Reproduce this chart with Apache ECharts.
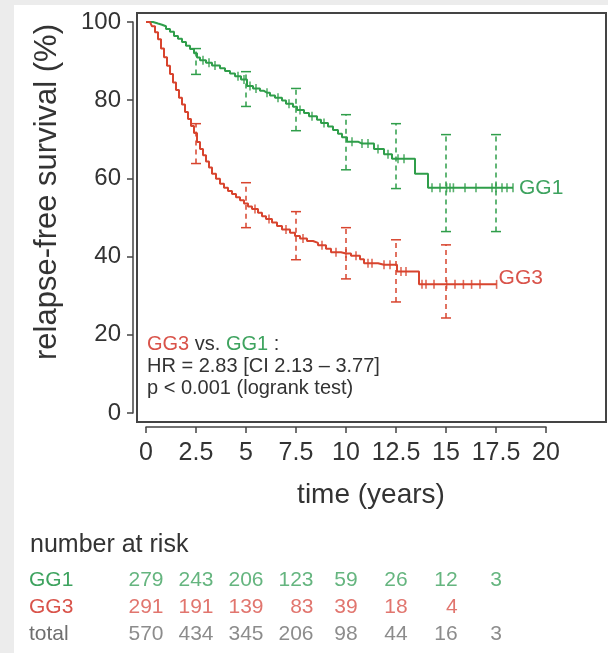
<!DOCTYPE html>
<html>
<head>
<meta charset="utf-8">
<script src="https://cdn.jsdelivr.net/npm/echarts@6/dist/echarts.min.js"></script>
<style>
  html, body { margin: 0; padding: 0; background: #ececec; }
  #sheet { position: absolute; left: 14px; top: 5px; right: 0; bottom: 0; background: #fff; }
  #km { position: absolute; left: 0; top: 0; width: 608px; height: 653px; }
</style>
</head>
<body>
<div id="sheet"></div>
<div id="km"></div>
<script>
var GREEN = "#2f9e4a";
var RED = "#d8442e";
var GREEN_TXT = "#3ea35f";
var RED_TXT = "#d9534a";

// [time, survival %, censored flag]
var gg1Curve = [
  [0, 100, 0], [0.35, 99.6, 0], [0.6, 99.3, 0], [0.8, 98.9, 0], [1.0, 98.2, 0],
  [1.2, 97.5, 0], [1.4, 96.4, 0], [1.6, 95.7, 0], [1.8, 94.9, 0], [2.0, 93.9, 0],
  [2.2, 93.1, 0], [2.4, 92.0, 0], [2.55, 90.9, 0], [2.7, 90.2, 0], [2.85, 90.2, 1],
  [3.0, 89.6, 0], [3.15, 89.6, 1], [3.3, 88.9, 0], [3.45, 88.9, 1], [3.7, 88.2, 0],
  [3.95, 87.5, 0], [4.2, 86.8, 0], [4.45, 86.1, 0], [4.6, 86.1, 1], [4.75, 85.3, 0],
  [4.9, 85.3, 1], [5.05, 83.6, 0], [5.2, 83.6, 1], [5.35, 83.0, 0], [5.5, 83.0, 1],
  [5.7, 82.4, 0], [5.9, 81.9, 0], [6.05, 81.9, 1], [6.2, 81.2, 0], [6.45, 80.6, 0],
  [6.6, 80.6, 1], [6.8, 79.9, 0], [7.0, 79.1, 0], [7.15, 79.1, 1], [7.35, 78.3, 0],
  [7.55, 77.5, 0], [7.7, 77.5, 1], [7.9, 76.7, 0], [8.15, 75.9, 0], [8.3, 75.9, 1],
  [8.55, 75.0, 0], [8.75, 74.2, 0], [8.9, 74.2, 1], [9.1, 73.3, 0], [9.35, 72.4, 0],
  [9.6, 71.4, 0], [9.8, 70.5, 0], [10.05, 69.4, 0], [10.3, 69.4, 1], [10.6, 68.9, 0],
  [10.8, 68.9, 1], [11.1, 68.9, 1], [11.4, 67.5, 0], [11.6, 67.5, 1], [11.9, 66.2, 0],
  [12.1, 66.2, 1], [12.3, 65.0, 0], [12.6, 65.0, 1], [12.9, 65.0, 1], [13.45, 61.2, 0],
  [14.1, 57.6, 0], [14.3, 57.6, 1], [14.7, 57.6, 1], [15.03, 57.6, 1], [15.2, 57.6, 1],
  [15.37, 57.6, 1], [15.95, 57.6, 1], [16.5, 57.6, 1], [17.3, 57.6, 1], [17.5, 57.6, 1],
  [17.8, 57.6, 1], [18.05, 57.6, 1], [18.35, 57.6, 1]
];

var gg3Curve = [
  [0, 100, 0], [0.2, 99.6, 0], [0.3, 98.9, 0], [0.45, 97.4, 0], [0.6, 95.6, 0],
  [0.75, 93.2, 0], [0.9, 91.0, 0], [1.05, 88.8, 0], [1.2, 86.7, 0], [1.35, 84.5, 0],
  [1.5, 82.6, 0], [1.65, 80.6, 0], [1.8, 78.9, 0], [1.95, 77.0, 0], [2.1, 75.2, 0],
  [2.25, 73.4, 0], [2.4, 71.6, 0], [2.55, 69.3, 0], [2.7, 67.5, 0], [2.85, 65.9, 0],
  [3.0, 64.3, 0], [3.15, 62.8, 0], [3.3, 61.2, 0], [3.5, 59.9, 0], [3.7, 58.6, 0],
  [3.9, 57.6, 0], [4.1, 56.8, 0], [4.3, 56.0, 0], [4.5, 55.2, 0], [4.7, 54.4, 0],
  [4.9, 53.6, 0], [5.1, 52.8, 0], [5.3, 52.2, 0], [5.45, 52.2, 1], [5.6, 51.2, 0],
  [5.8, 50.3, 0], [6.0, 49.6, 0], [6.15, 49.6, 1], [6.3, 48.7, 0], [6.55, 47.8, 0],
  [6.8, 46.9, 0], [7.0, 46.9, 1], [7.2, 46.1, 0], [7.45, 45.3, 0], [7.7, 44.6, 0],
  [7.85, 44.6, 1], [8.05, 44.0, 0], [8.35, 43.5, 0], [8.6, 42.9, 0], [8.8, 42.9, 1],
  [9.0, 42.0, 0], [9.25, 41.1, 0], [9.5, 41.1, 1], [9.75, 40.8, 0], [10.0, 40.8, 1],
  [10.25, 40.2, 0], [10.5, 40.2, 1], [10.7, 39.3, 0], [10.9, 38.3, 0], [11.1, 38.3, 1],
  [11.3, 38.3, 1], [11.6, 37.9, 0], [11.9, 37.9, 1], [12.2, 37.9, 1], [12.55, 36.2, 0],
  [12.75, 36.2, 1], [13.0, 36.2, 1], [13.65, 32.9, 0], [13.8, 32.9, 1], [14.0, 32.9, 1],
  [14.4, 32.9, 1], [15.03, 32.9, 1], [15.45, 32.9, 1], [15.87, 32.9, 1], [16.28, 32.9, 1],
  [16.7, 32.9, 1], [17.53, 32.9, 1]
];

// [time, lower, upper]
var gg1CI = [[2.5, 86.6, 93.2], [5, 78.4, 87.3], [7.5, 72.2, 83.0], [10, 62.2, 76.3],
             [12.5, 57.4, 74.0], [15, 46.4, 71.2], [17.5, 46.4, 71.2]];
var gg3CI = [[2.5, 63.8, 74.0], [5, 47.4, 58.9], [7.5, 39.2, 51.5], [10, 34.3, 47.4],
             [12.5, 28.4, 44.3], [15, 24.3, 43.0]];

var xTicks = [0, 2.5, 5, 7.5, 10, 12.5, 15, 17.5, 20];
var riskRows = ["GG1", "GG3", "total"];
var riskGG1 = [279, 243, 206, 123, 59, 26, 12, 3];
var riskGG3 = [291, 191, 139, 83, 39, 18, 4, null];
var riskTotal = [570, 434, 345, 206, 98, 44, 16, 3];

var FONT = "'Liberation Sans', Arial, Helvetica, sans-serif";

function censored(curve) {
  return curve.filter(function (d) { return d[2] === 1; });
}

function ciRender(color) {
  return function (params, api) {
    var t = api.value(0);
    var lo = api.coord([t, api.value(1)]);
    var hi = api.coord([t, api.value(2)]);
    var cap = 5;
    return {
      type: "group",
      children: [
        { type: "line", shape: { x1: lo[0], y1: lo[1], x2: hi[0], y2: hi[1] },
          style: { stroke: color, lineWidth: 1.5, lineDash: [5, 4] } },
        { type: "line", shape: { x1: lo[0] - cap, y1: lo[1], x2: lo[0] + cap, y2: lo[1] },
          style: { stroke: color, lineWidth: 1.5 } },
        { type: "line", shape: { x1: hi[0] - cap, y1: hi[1], x2: hi[0] + cap, y2: hi[1] },
          style: { stroke: color, lineWidth: 1.5 } }
      ]
    };
  };
}

// widest entry in each risk column, to right-align the numbers in it
var colLen = xTicks.slice(0, 8).map(function (t, i) {
  return Math.max(String(riskGG1[i] || "").length, String(riskGG3[i] || "").length,
                  String(riskTotal[i] || "").length);
});

function riskSeries(row, values, color) {
  var data = [];
  values.forEach(function (v, i) {
    if (v !== null) data.push({ value: [xTicks[i], row, v], colIdx: i });
  });
  return {
    type: "scatter",
    xAxisIndex: 1,
    yAxisIndex: 1,
    symbolSize: 1,
    itemStyle: { color: "rgba(0,0,0,0)" },
    silent: true,
    data: data.map(function (d) {
      return {
        value: d.value,
        label: { offset: [colLen[d.colIdx] * 5.85, 0] }
      };
    }),
    label: {
      show: true,
      position: "inside",
      align: "right",
      color: color,
      fontSize: 21,
      fontFamily: FONT,
      formatter: function (p) { return String(p.value[2]); }
    }
  };
}

var myChart = echarts.init(document.getElementById("km"), null, { renderer: "canvas" });

myChart.setOption({
  animation: false,
  backgroundColor: "transparent",
  textStyle: { fontFamily: FONT },
  grid: [
    { left: 146, top: 22, width: 400, height: 391 },
    { left: 146, top: 567, width: 400, height: 81 }
  ],
  xAxis: [
    {
      gridIndex: 0, type: "value", min: 0, max: 20, interval: 2.5,
      offset: 14,
      axisLine: { show: true, onZero: false, lineStyle: { color: "#444", width: 1.5 } },
      axisTick: { show: true, length: 6, lineStyle: { color: "#444", width: 1.5 } },
      axisLabel: { fontSize: 25, margin: 14, color: "#333", fontFamily: FONT },
      splitLine: { show: false }
    },
    { gridIndex: 1, type: "value", min: 0, max: 20, show: false }
  ],
  yAxis: [
    {
      gridIndex: 0, type: "value", min: 0, max: 100, interval: 20,
      offset: 13,
      axisLine: { show: true, onZero: false, lineStyle: { color: "#444", width: 1.5 } },
      axisTick: { show: true, length: 6, lineStyle: { color: "#444", width: 1.5 } },
      axisLabel: { fontSize: 24, margin: 12, color: "#333", fontFamily: FONT },
      splitLine: { show: false }
    },
    {
      gridIndex: 1, type: "category", data: riskRows, inverse: true,
      axisLine: { show: false }, axisTick: { show: false },
      axisLabel: {
        interval: 0,
        align: "left", margin: 117, fontSize: 21, fontFamily: FONT,
        formatter: function (v) {
          var k = v === "GG1" ? "g" : v === "GG3" ? "r" : "k";
          return "{" + k + "|" + v + "}";
        },
        rich: {
          g: { color: GREEN_TXT, fontSize: 21, fontFamily: FONT },
          r: { color: RED_TXT, fontSize: 21, fontFamily: FONT },
          k: { color: "#6f6f6f", fontSize: 21, fontFamily: FONT }
        }
      }
    }
  ],
  graphic: [
    { type: "rect", z: 0, shape: { x: 137, y: 13, width: 469, height: 409 },
      style: { fill: "none", stroke: "#444", lineWidth: 2 } },
    { type: "text", x: 371, y: 495,
      style: { text: "time (years)", fontSize: 28, fontFamily: FONT, fill: "#333",
               textAlign: "center", textVerticalAlign: "middle" } },
    { type: "text", x: 47, y: 192, rotation: Math.PI / 2,
      style: { text: "relapse-free survival (%)", fontSize: 31, fontFamily: FONT, fill: "#333",
               textAlign: "center", textVerticalAlign: "middle" } },
    { type: "text", x: 30, y: 545,
      style: { text: "number at risk", fontSize: 25, fontFamily: FONT, fill: "#333",
               textAlign: "left", textVerticalAlign: "middle" } },
    { type: "text", x: 147, y: 333,
      style: {
        text: "{r|GG3} vs. {g|GG1} :\nHR = 2.83 [CI 2.13 \u2013 3.77]\np < 0.001 (logrank test)",
        fontSize: 20, fontFamily: FONT, fill: "#333", lineHeight: 22,
        rich: {
          r: { fill: RED_TXT, fontSize: 20, fontFamily: FONT },
          g: { fill: GREEN_TXT, fontSize: 20, fontFamily: FONT }
        }
      } }
  ],
  series: [
    {
      name: "GG1", type: "line", step: "end", data: gg1Curve,
      encode: { x: 0, y: 1 }, showSymbol: false, symbol: "none",
      lineStyle: { color: GREEN, width: 2 }, itemStyle: { color: GREEN },
      endLabel: { show: true, formatter: "GG1", color: GREEN_TXT, fontSize: 21,
                  fontFamily: FONT, distance: 6 },
      z: 3
    },
    {
      name: "GG3", type: "line", step: "end", data: gg3Curve,
      encode: { x: 0, y: 1 }, showSymbol: false, symbol: "none",
      lineStyle: { color: RED, width: 2 }, itemStyle: { color: RED },
      endLabel: { show: true, formatter: "GG3", color: RED_TXT, fontSize: 21,
                  fontFamily: FONT, distance: 2, offset: [0, -6] },
      z: 3
    },
    {
      type: "scatter", data: censored(gg1Curve), encode: { x: 0, y: 1 },
      symbol: "rect", symbolSize: [1.6, 9], itemStyle: { color: GREEN }, z: 4, silent: true
    },
    {
      type: "scatter", data: censored(gg3Curve), encode: { x: 0, y: 1 },
      symbol: "rect", symbolSize: [1.6, 9], itemStyle: { color: RED }, z: 4, silent: true
    },
    { type: "custom", data: gg1CI, renderItem: ciRender(GREEN), z: 2, silent: true },
    { type: "custom", data: gg3CI, renderItem: ciRender(RED), z: 2, silent: true },
    riskSeries("GG1", riskGG1, GREEN_TXT),
    riskSeries("GG3", riskGG3, RED_TXT),
    riskSeries("total", riskTotal, "#6f6f6f")
  ]
});
</script>
</body>
</html>
